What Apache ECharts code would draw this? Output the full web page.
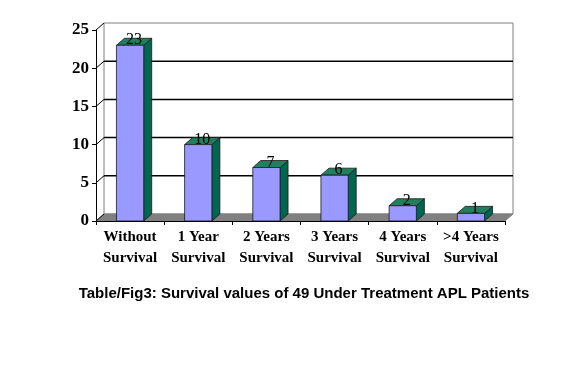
<!DOCTYPE html>
<html>
<head>
<meta charset="utf-8">
<script src="https://cdn.jsdelivr.net/npm/echarts@6/dist/echarts.min.js"></script>
<style>html,body{margin:0;padding:0;background:#fff;}#c{width:588px;height:384px;}</style>
</head>
<body>
<div id="c"></div>
<script>
var categories = ['Without\nSurvival', '1 Year\nSurvival', '2 Years\nSurvival', '3 Years\nSurvival', '4 Years\nSurvival', '>4 Years\nSurvival'];
var values = [23, 10, 7, 6, 2, 1];
var gridValues = [5, 10, 15, 20];
var titleText = 'Table/Fig3: Survival values of 49 Under Treatment APL Patients';

var DX = 8, DY = -7;
var serif = '"Liberation Serif", "Times New Roman", serif';

var chart = echarts.init(document.getElementById('c'));

function renderWalls(params, api) {
  var cs = params.coordSys;
  var x = cs.x, y = cs.y, w = cs.width, h = cs.height;
  var children = [];
  children.push({type: 'rect', shape: {x: x + DX, y: y + DY, width: w, height: h},
    style: {fill: '#fff', stroke: '#808080', lineWidth: 1}});
  children.push({type: 'polygon', shape: {points: [[x, y + h], [x + w, y + h], [x + w + DX, y + h + DY], [x + DX, y + h + DY]]},
    style: {fill: '#808080', stroke: '#808080', lineWidth: 1}});
  gridValues.forEach(function (g) {
    var py = api.coord([0, g])[1];
    children.push({type: 'line', shape: {x1: x + DX, y1: py + DY, x2: x + w + DX, y2: py + DY},
      style: {stroke: '#000', lineWidth: 1.5}});
  });
  [0].concat(gridValues).concat([25]).forEach(function (g) {
    var py = api.coord([0, g])[1];
    children.push({type: 'line', shape: {x1: x, y1: py, x2: x + DX, y2: py + DY},
      style: {stroke: '#000', lineWidth: 1}});
  });
  return {type: 'group', children: children};
}

function renderBar(params, api) {
  var xi = api.value(0), v = api.value(1);
  var base = api.coord([xi, 0]);
  var top = api.coord([xi, v]);
  var bw = api.size([1, 0])[0] * 0.4;
  var l = base[0] - bw / 2, r = base[0] + bw / 2;
  var t = top[1], b = base[1];
  var edge = '#1a1a1a';
  return {type: 'group', children: [
    {type: 'polygon', shape: {points: [[r, t], [r + DX, t + DY], [r + DX, b + DY], [r, b]]},
      style: {fill: '#006650', stroke: edge, lineWidth: 0.8}},
    {type: 'polygon', shape: {points: [[l, t], [r, t], [r + DX, t + DY], [l + DX, t + DY]]},
      style: {fill: '#1f7f5f', stroke: edge, lineWidth: 0.8}},
    {type: 'rect', shape: {x: l, y: t, width: bw, height: b - t},
      style: {fill: '#9999ff', stroke: edge, lineWidth: 0.8}},
    {type: 'text', style: {text: String(v), x: base[0] + DX / 2, y: t - 5, align: 'center', verticalAlign: 'middle',
      font: '16px ' + serif, fill: '#000'}}
  ]};
}

chart.setOption({
  animation: false,
  backgroundColor: '#fff',
  title: {text: titleText, left: 299, top: 281, textAlign: 'center',
    textStyle: {fontFamily: '"Liberation Sans", Arial, sans-serif', fontWeight: 'bold', fontSize: 15, color: '#000'}},
  grid: {left: 96, right: 83, top: 30, bottom: 163, containLabel: false},
  xAxis: {type: 'category', data: categories, boundaryGap: true,
    axisLine: {lineStyle: {color: '#000', width: 1}},
    axisTick: {show: true, length: 4, lineStyle: {color: '#000'}},
    axisLabel: {fontFamily: serif, fontWeight: 'bold', fontSize: 15, color: '#000', lineHeight: 21, margin: 6, interval: 0},
    splitLine: {show: false}, z: 5},
  yAxis: {type: 'value', min: 0, max: 25, interval: 5,
    axisLine: {show: true, lineStyle: {color: '#000', width: 1}},
    axisTick: {show: true, length: 4, lineStyle: {color: '#000'}},
    axisLabel: {fontFamily: serif, fontWeight: 'bold', fontSize: 17, color: '#000', margin: 7},
    splitLine: {show: false}, z: 5},
  series: [
    {type: 'custom', renderItem: renderWalls, data: [[0, 0]], z: 1, silent: true, clip: false},
    {type: 'custom', renderItem: renderBar, data: values.map(function (v, i) { return [i, v]; }), z: 3, clip: false}
  ]
});
</script>
</body>
</html>
